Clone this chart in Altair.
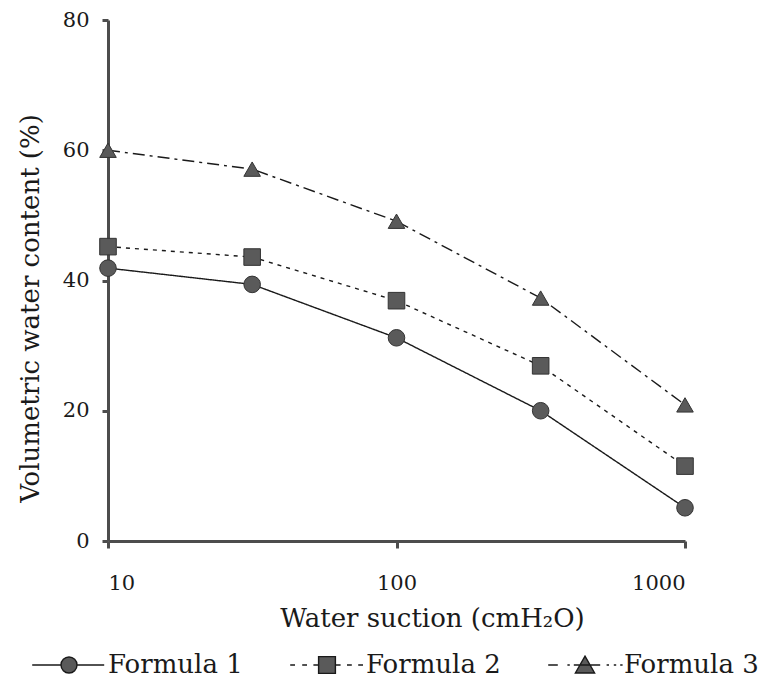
import altair as alt
import pandas as pd

# ---- data ----
suction = [10, 31.6, 100, 316, 1000]
formula_1 = [41.9, 39.4, 31.2, 20.0, 5.1]
formula_2 = [45.2, 43.6, 36.9, 26.9, 11.5]
formula_3 = [60.0, 57.1, 49.1, 37.3, 20.9]
series_names = ["Formula 1", "Formula 2", "Formula 3"]
x_ticks = [10, 100, 1000]
y_ticks = [0, 20, 40, 60, 80]

rows = []
for name, vals in zip(series_names, [formula_1, formula_2, formula_3]):
    for s, v in zip(suction, vals):
        rows.append({"suction": s, "water": v, "series": name})
df = pd.DataFrame(rows)

FONT = "DejaVu Serif"
AXIS_GRAY = "#4d4d4d"
MARK_FILL = "#5a5a5a"
LINE_COL = "#1a1a1a"

x_enc = alt.X(
    "suction:Q",
    scale=alt.Scale(type="log", domain=[10, 1000], nice=False),
    axis=alt.Axis(
        values=x_ticks, format="d", title="Water suction (cmH₂O)",
        titleX=324, titleY=77, titleBaseline="middle",
        tickSize=7, labelPadding=24,
    ),
)
y_enc = alt.Y(
    "water:Q",
    scale=alt.Scale(domain=[0, 80], nice=False, zero=True),
    axis=alt.Axis(
        values=y_ticks, title="Volumetric water content (%)",
        titleX=-78, titleY=288, titleBaseline="middle",
        tickSize=6, labelPadding=13,
    ),
)

lines = alt.Chart(df).mark_line(strokeWidth=1.4, color=LINE_COL).encode(
    x=x_enc, y=y_enc,
    strokeDash=alt.StrokeDash(
        "series:N",
        scale=alt.Scale(domain=series_names, range=[[1, 0], [4, 5], [12, 5, 3, 5]]),
        legend=None,
    ),
    detail="series:N",
)

points = alt.Chart(df).mark_point(
    filled=True, fill=MARK_FILL, stroke="#333333", strokeWidth=1, opacity=1, size=275
).encode(
    x=x_enc, y=y_enc,
    shape=alt.Shape(
        "series:N",
        scale=alt.Scale(domain=series_names, range=["circle", "square", "triangle-up"]),
        legend=None,
    ),
)

# legend symbols: a line segment pattern with the marker in the middle
leg_paths = [
    "M-4.6,0H-1M1,0H4.4M1,0A1,1 0 1,1 -1,0A1,1 0 1,1 1,0Z",
    "M-4.6,0H-4.0M-3.1,0H-2.5M-1.7,0H-1.1M1.1,0H1.7M2.5,0H3.1M3.9,0H4.5M-1.05,-1.05H1.05V1.05H-1.05Z",
    "M-4.6,0H-3.4M-2.2,0H-1.9M-1.4,0H1.9M2.7,0H3.0M3.6,0H3.9M4.4,0H4.7M0,-1.1L1.2,1L-1.2,1Z",
]
legend_points = alt.Chart(df).mark_point(
    filled=True, fill=MARK_FILL, stroke=LINE_COL, strokeWidth=1.4, opacity=0, size=256
).encode(
    x=x_enc, y=y_enc,
    shape=alt.Shape(
        "series:N",
        scale=alt.Scale(domain=series_names, range=leg_paths),
        legend=alt.Legend(
            title=None, orient="none", direction="horizontal",
            legendX=-52, legendY=632,
            symbolSize=256, symbolOpacity=1, symbolStrokeWidth=1.4,
            labelFont=FONT, labelFontSize=26, labelColor="#1a1a1a",
            labelOffset=26, columnPadding=44, padding=0,
        ),
    ),
)

chart = (
    alt.layer(lines, points, legend_points)
    .resolve_scale(shape="independent", strokeDash="independent")
    .properties(
        width=577, height=521,
        autosize=alt.AutoSizeParams(type="none"),
        padding={"left": 108, "top": 20, "right": 77, "bottom": 150},
        background="white",
    )
    .configure_view(stroke=None)
    .configure_axis(
        grid=False,
        domainColor=AXIS_GRAY, domainWidth=3,
        tickColor=AXIS_GRAY, tickWidth=3,
        labelFont=FONT, labelFontSize=21, labelColor="#1a1a1a",
        titleFont=FONT, titleFontSize=26, titleFontWeight="normal", titleColor="#1a1a1a",
    )
)

chart.save("out.html", embed_options={"renderer": "svg", "actions": False})
